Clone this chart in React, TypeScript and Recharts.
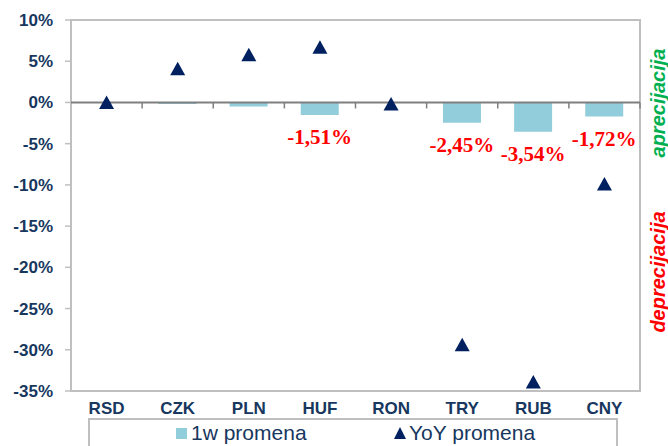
import {
  Bar,
  ComposedChart,
  LabelList,
  ReferenceArea,
  ReferenceLine,
  Scatter,
  XAxis,
  YAxis,
} from "recharts";

const categories = ["RSD", "CZK", "PLN", "HUF", "RON", "TRY", "RUB", "CNY"];
const weekly = [0, -0.2, -0.5, -1.51, 0, -2.45, -3.54, -1.72];
const yoy = [0, 4.1, 5.8, 6.7, -0.2, -29.4, -33.9, -9.9];
const barLabels = ["", "", "", "-1,51%", "", "-2,45%", "-3,54%", "-1,72%"];
const yTicks = [10, 5, 0, -5, -10, -15, -20, -25, -30, -35];

const NAVY = "#17375E";
const BAR = "#92CDDC";
const MARK = "#002060";
const GRID = "#BFBFBF";

const rows = categories.map((name, i) => ({
  name,
  w1: weekly[i],
  yoy: yoy[i],
  label: barLabels[i],
}));

function Triangle(props: any) {
  const { cx, cy } = props;
  if (cx == null || cy == null) return null;
  return (
    <polygon
      points={`${cx},${cy - 7} ${cx - 7.5},${cy + 6.5} ${cx + 7.5},${cy + 6.5}`}
      fill={MARK}
    />
  );
}

function ZeroLine(props: any) {
  const { x1, x2, y1 } = props;
  const step = (x2 - x1) / categories.length;
  return (
    <g>
      <line x1={x1} x2={x2} y1={y1} y2={y1} stroke="#7F7F7F" strokeWidth={2} />
      {categories.map((_, i) => (
        <line
          key={i}
          x1={x1 + step * (i + 1)}
          x2={x1 + step * (i + 1)}
          y1={y1}
          y2={y1 + 6}
          stroke="#7F7F7F"
          strokeWidth={1.5}
        />
      ))}
    </g>
  );
}

// bar labels sit a little below the bar end, as in the source
function BarLabel(props: any) {
  const vb = props.viewBox || {};
  const x = props.x ?? vb.x;
  const y = props.y ?? vb.y;
  const width = props.width ?? vb.width;
  const height = props.height ?? vb.height;
  const text = props.value;
  if (!text) return null;
  const bottom = Math.max(y, y + height);
  return (
    <text
      x={x + width / 2}
      y={bottom + 22}
      textAnchor="middle"
      dominantBaseline="central"
      fill="#FF0000"
      fontFamily="'Liberation Serif', 'Times New Roman', serif"
      fontWeight="bold"
      fontSize={21}
    >
      {text}
    </text>
  );
}

export default function App() {
  return (
    <div style={{ position: "relative", width: 668, height: 446, background: "#fff", overflow: "hidden" }}>
      <style>{`body{margin:0}`}</style>
      <ComposedChart
        width={668}
        height={446}
        data={rows}
        margin={{ top: 20, right: 28, bottom: 25, left: 11 }}
        barCategoryGap="23%"
      >
        <XAxis
          dataKey="name"
          axisLine={false}
          tickLine={false}
          tickMargin={5}
          height={30}
          interval={0}
          tick={{
            fill: NAVY,
            fontSize: 17,
            fontWeight: "bold",
            fontFamily: "'Liberation Sans', Arial, sans-serif",
          }}
        />
        <YAxis
          domain={[-35, 10]}
          ticks={yTicks}
          interval={0}
          width={60}
          axisLine={false}
          tickLine={{ stroke: GRID, strokeWidth: 1.5 }}
          tickSize={6}
          tickMargin={12}
          tickFormatter={(v: number) => `${v}%`}
          tick={{
            fill: NAVY,
            fontSize: 17,
            fontWeight: "bold",
            fontFamily: "'Liberation Sans', Arial, sans-serif",
          }}
        />
        <ReferenceArea y1={-35} y2={10} fill="none" stroke={GRID} strokeWidth={2} />
        <Bar dataKey="w1" fill={BAR} isAnimationActive={false}>
          <LabelList dataKey="label" content={BarLabel} />
        </Bar>
        <ReferenceLine y={0} shape={ZeroLine} />
        <Scatter dataKey="yoy" shape={Triangle} isAnimationActive={false} />
      </ComposedChart>

      <div
        style={{
          position: "absolute",
          left: 658,
          top: 103,
          transform: "translate(-50%, -50%) rotate(-90deg)",
          whiteSpace: "nowrap",
          color: "#00B050",
          fontFamily: "'Liberation Sans', Arial, sans-serif",
          fontWeight: "bold",
          fontStyle: "italic",
          fontSize: 20,
        }}
      >
        aprecijacija
      </div>
      <div
        style={{
          position: "absolute",
          left: 658,
          top: 272,
          transform: "translate(-50%, -50%) rotate(-90deg)",
          whiteSpace: "nowrap",
          color: "#FF0000",
          fontFamily: "'Liberation Sans', Arial, sans-serif",
          fontWeight: "bold",
          fontStyle: "italic",
          fontSize: 20,
        }}
      >
        deprecijacija
      </div>

      <div
        style={{
          position: "absolute",
          left: 88,
          top: 418,
          width: 530,
          height: 40,
          border: `2px solid ${GRID}`,
          boxSizing: "border-box",
          background: "#fff",
          fontFamily: "'Liberation Sans', Arial, sans-serif",
          fontSize: 21,
          color: NAVY,
        }}
      >
        <div style={{ position: "absolute", left: 86, top: 8, width: 11, height: 11, background: BAR }} />
        <div style={{ position: "absolute", left: 101, top: 2, lineHeight: "22px" }}>1w promena</div>
        <svg style={{ position: "absolute", left: 304, top: 7 }} width={12} height={12}>
          <polygon points="6,0 0,12 12,12" fill={MARK} />
        </svg>
        <div style={{ position: "absolute", left: 319, top: 2, lineHeight: "22px" }}>YoY promena</div>
      </div>
    </div>
  );
}
